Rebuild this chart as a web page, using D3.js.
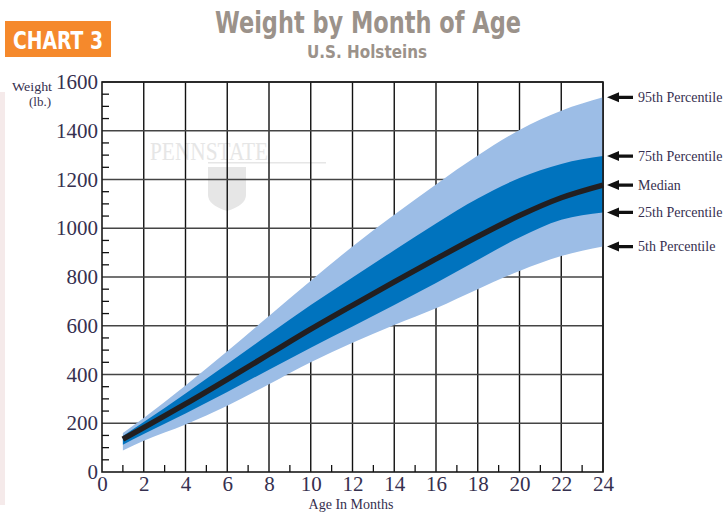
<!DOCTYPE html>
<meta charset="utf-8">
<style>
body { margin: 0; background: #fff; }
svg { display: block; }
.serif { font-family: "Liberation Serif", "DejaVu Serif", serif; }
.cond { font-family: "DejaVu Sans Condensed", "Liberation Sans Narrow", sans-serif; font-weight: bold; }
</style>
<body>
<script src="https://cdnjs.cloudflare.com/ajax/libs/d3/7.8.5/d3.min.js"></script>
<script>

// data (months, lbs)
var months = [1, 2, 4, 6, 8, 10, 12, 14, 16, 18, 20, 22, 24];
var p5     = [88, 128, 195, 272, 360, 450, 530, 603, 672, 750, 825, 886, 925];
var p25    = [112, 156, 240, 328, 420, 510, 597, 685, 775, 870, 962, 1035, 1065];
var median = [135, 182, 279, 380, 483, 586, 684, 780, 874, 966, 1052, 1125, 1177];
var p75    = [148, 205, 322, 443, 565, 685, 798, 910, 1020, 1122, 1206, 1264, 1296];
var p95    = [160, 222, 355, 495, 640, 785, 925, 1055, 1180, 1298, 1403, 1482, 1537];

var xTicks = d3.range(0, 25, 2);
var yTicks = d3.range(0, 1601, 200);
var labels = ["95th Percentile", "75th Percentile", "Median", "25th Percentile", "5th Percentile"];
var labelVals = [p95[12], p75[12], median[12], p25[12], p5[12]];

var W = 726, H = 513;
var svg = d3.select("body").append("svg").attr("width", W).attr("height", H);

var x = d3.scaleLinear().domain([0, 24]).range([102, 603]);
var y = d3.scaleLinear().domain([0, 1600]).range([472, 82]);

// faint strip at left edge
svg.append("rect").attr("x", 0).attr("y", 92).attr("width", 5).attr("height", 413).attr("fill", "#f5eaea");

// header
svg.append("rect").attr("x", 5).attr("y", 21).attr("width", 106).attr("height", 36).attr("fill", "#f5892c");
svg.append("text").attr("class", "cond").attr("x", 58).attr("y", 49).attr("text-anchor", "middle")
  .attr("font-size", 25).attr("fill", "#fff").attr("textLength", 90).attr("lengthAdjust", "spacingAndGlyphs").text("CHART 3");
svg.append("text").attr("class", "cond").attr("x", 368).attr("y", 33).attr("text-anchor", "middle")
  .attr("font-size", 31).attr("fill", "#9b928a").attr("textLength", 306).attr("lengthAdjust", "spacingAndGlyphs").text("Weight by Month of Age");
svg.append("text").attr("class", "cond").attr("x", 367).attr("y", 58).attr("text-anchor", "middle")
  .attr("font-size", 18).attr("fill", "#9b928a").attr("textLength", 120).attr("lengthAdjust", "spacingAndGlyphs").text("U.S. Holsteins");

// watermark
var wm = svg.append("g").attr("fill", "#e6e6e6");
wm.append("text").attr("class", "serif").attr("x", 150).attr("y", 160).attr("font-size", 25)
  .attr("textLength", 118).attr("lengthAdjust", "spacingAndGlyphs").text("PENNSTATE");
wm.append("rect").attr("x", 208).attr("y", 162).attr("width", 118).attr("height", 1.5);
wm.append("path").attr("d", "M208,167 L246,167 L246,195 Q246,205 227,211 Q208,205 208,195 Z");

// grid
var grid = svg.append("g");
grid.selectAll(".vg").data(xTicks.slice(1)).enter().append("line")
  .attr("x1", d => x(d)).attr("x2", d => x(d)).attr("y1", y(1600)).attr("y2", y(0))
  .attr("stroke", "#111").attr("stroke-width", 1.4);
grid.selectAll(".hg").data(yTicks.slice(1)).enter().append("line")
  .attr("x1", x(0)).attr("x2", x(24)).attr("y1", d => y(d)).attr("y2", d => y(d))
  .attr("stroke", "#444").attr("stroke-width", 1.6);

// bands
var outer = d3.area().curve(d3.curveMonotoneX)
  .x((d, i) => x(months[i])).y0((d, i) => y(p5[i])).y1((d, i) => y(p95[i]));
var inner = d3.area().curve(d3.curveMonotoneX)
  .x((d, i) => x(months[i])).y0((d, i) => y(p25[i])).y1((d, i) => y(p75[i]));
var mline = d3.line().curve(d3.curveMonotoneX)
  .x((d, i) => x(months[i])).y((d, i) => y(median[i]));

svg.append("path").datum(months).attr("d", outer).attr("fill", "#9cbde6");
svg.append("path").datum(months).attr("d", inner).attr("fill", "#0073be");
svg.append("path").datum(months).attr("d", mline).attr("fill", "none")
  .attr("stroke", "#231f20").attr("stroke-width", 5.5);

// frame
svg.append("rect").attr("x", x(0)).attr("y", y(1600)).attr("width", x(24) - x(0)).attr("height", y(0) - y(1600))
  .attr("fill", "none").attr("stroke", "#1a1a1a").attr("stroke-width", 1.6);

// axes
var yAxis = svg.append("g").attr("transform", "translate(" + x(0) + ",0)")
  .call(d3.axisLeft(y).tickValues(yTicks).tickFormat(d3.format("d")).tickSize(0).tickPadding(4));
var xAxis = svg.append("g").attr("transform", "translate(0," + y(0) + ")")
  .call(d3.axisBottom(x).tickValues(xTicks).tickFormat(d3.format("d")).tickSize(0).tickPadding(4));
[yAxis, xAxis].forEach(function (a) {
  a.select(".domain").remove();
  a.selectAll("text").attr("class", "serif").attr("font-size", 21).attr("fill", "#36304f");
});
xAxis.selectAll("text").attr("dy", "0.72em");

// minor ticks
svg.append("g").selectAll("line").data(d3.range(50, 1600, 50).filter(d => d % 200 != 0)).enter().append("line")
  .attr("x1", x(0)).attr("x2", x(0) + 7).attr("y1", d => y(d)).attr("y2", d => y(d))
  .attr("stroke", "#111").attr("stroke-width", 1.3);
svg.append("g").selectAll("line").data(d3.range(1, 24, 2)).enter().append("line")
  .attr("x1", d => x(d)).attr("x2", d => x(d)).attr("y1", y(0)).attr("y2", y(0) - 7)
  .attr("stroke", "#111").attr("stroke-width", 1.3);

// axis titles
svg.append("text").attr("class", "serif").attr("x", 32).attr("y", 91).attr("text-anchor", "middle")
  .attr("font-size", 13.5).attr("fill", "#36304f").attr("textLength", 40).attr("lengthAdjust", "spacingAndGlyphs").text("Weight");
svg.append("text").attr("class", "serif").attr("x", 40).attr("y", 106).attr("text-anchor", "middle")
  .attr("font-size", 13).attr("fill", "#36304f").text("(lb.)");
svg.append("text").attr("class", "serif").attr("x", 351).attr("y", 509).attr("text-anchor", "middle")
  .attr("font-size", 14).attr("fill", "#36304f").text("Age In Months");

// percentile labels with arrows
var lab = svg.append("g").selectAll("g").data(labels).enter().append("g")
  .attr("transform", (d, i) => "translate(0," + y(labelVals[i]) + ")");
lab.append("path").attr("d", "M607,0 L619,-5 L619,-1.6 L633,-1.6 L633,1.6 L619,1.6 L619,5 Z").attr("fill", "#111");
lab.append("text").attr("class", "serif").attr("x", 638).attr("y", 4.5).attr("font-size", 14)
  .attr("fill", "#36304f").text(d => d);

</script>
</body>
